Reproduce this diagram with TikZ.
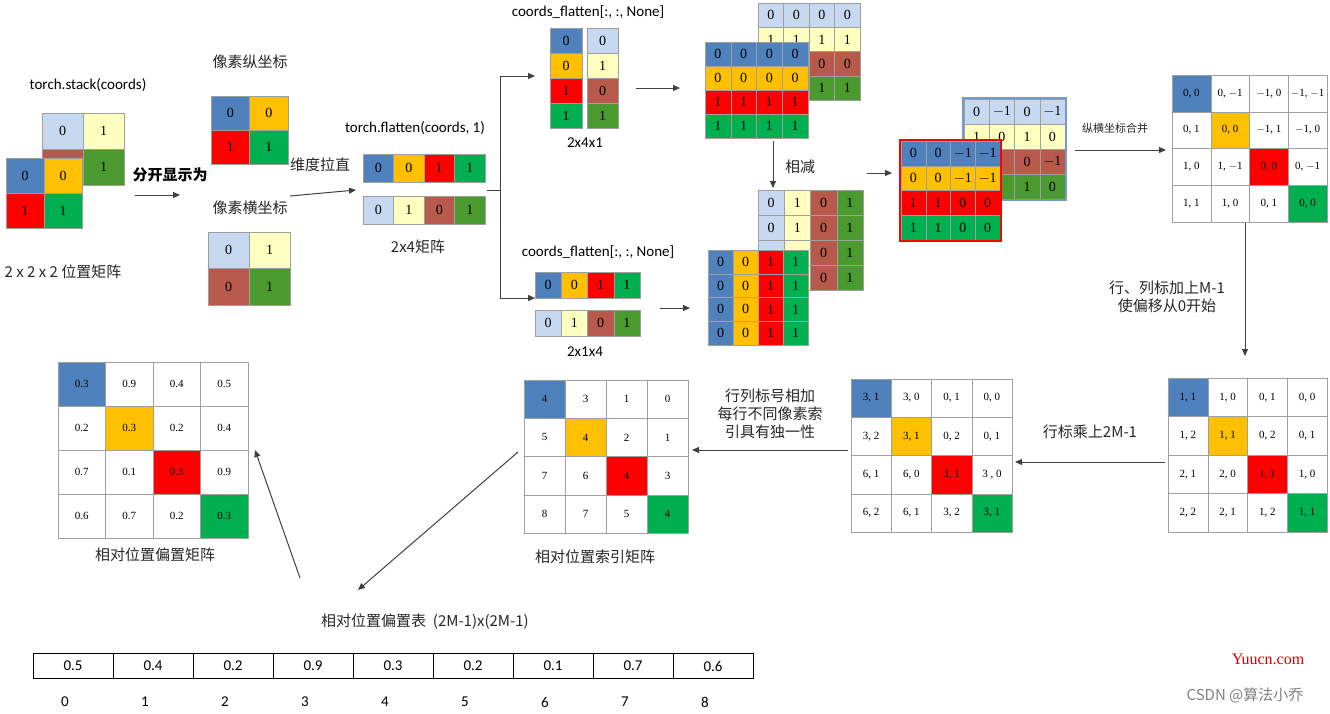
\documentclass[tikz,border=0pt]{standalone}
\usepackage{fontspec}
\setmainfont{Carlito}
\newfontfamily\cjk{Noto Sans CJK SC}
\newfontfamily\srf{Liberation Serif}
\usetikzlibrary{arrows.meta}
\definecolor{B}{HTML}{4F81BD}\definecolor{O}{HTML}{FFC000}\definecolor{R}{HTML}{FF0000}
\definecolor{G}{HTML}{00B050}\definecolor{L}{HTML}{C6D9F1}\definecolor{Y}{HTML}{FFFFC0}
\definecolor{N}{HTML}{B85A4B}\definecolor{D}{HTML}{4A9A2F}\definecolor{W}{HTML}{FFFFFF}
\definecolor{arr}{HTML}{404040}
\tikzset{cell/.style={draw=gray!75,inner sep=0pt,font=\srf\fontsize{14}{14}\selectfont},
 sm/.style={font=\srf\fontsize{11}{11}\selectfont},
 lbl/.style={font=\cjk\fontsize{15}{18}\selectfont,inner sep=1pt,align=center,text=black!85},
 code/.style={font=\fontsize{15}{17}\selectfont,inner sep=1pt},
 ar/.style={draw=arr,line width=1pt,-{Triangle[length=7pt,width=6pt]}}}
\newcommand\mgrid[6][]{\foreach \row [count=\r] in {#6}{\foreach \fc/\vv [count=\k] in \row {%
 \node[cell,#1,fill=\fc,minimum width=#4pt,minimum height=#5pt] at ({#2+(\k-0.5)*#4},{#3+(\r-0.5)*#5}) {\vv};}}}
\begin{document}
\begin{tikzpicture}[x=1pt,y=-1pt]
\useasboundingbox (0,0) rectangle (1330,713);
% 1 stack
\node[code] (t1) at (88,85) {torch.stack(coords)};
\mgrid{42}{113}{41}{36}{{L/0,Y/1},{N/{},D/1}}
\mgrid{6}{158}{38}{35}{{B/0,O/0},{R/1,G/1}}
\node[lbl] (c1) at (63,272) {2 x 2 x 2 位置矩阵};
\node[lbl,font=\cjk\bfseries\fontsize{15}{16}\selectfont,text=black] (s1) at (170,175) {分开显示为};
\coordinate (a1) at (135,195); \coordinate (b1) at (180,195);
\draw[ar] (a1) -- (b1);
% 2 split
\node[lbl] (z1) at (250,62) {像素纵坐标};
\mgrid{211}{96}{38.5}{34}{{B/0,O/0},{R/1,G/1}}
\node[lbl] (z2) at (250,208) {像素横坐标};
\mgrid{208}{232}{41}{36.5}{{L/0,Y/1},{N/0,D/1}}
\node[lbl] (w1) at (320,165) {维度拉直};
\coordinate (a2) at (290,196); \coordinate (b2) at (356,190);
\draw[ar] (a2) -- (b2);
% 3 flatten
\node[code] (t2) at (415,128) {torch.flatten(coords, 1)};
\mgrid{363}{154}{30.5}{28}{{B/0,O/0,R/1,G/1}}
\mgrid{363}{196}{30.5}{28}{{L/0,Y/1,N/0,D/1}}
\node[lbl] (c3) at (418,247) {2x4矩阵};
\coordinate (j0) at (487,190); \coordinate (j1) at (500,190);
\coordinate (j2) at (500,76); \coordinate (j3) at (535,76);
\coordinate (j4) at (500,298); \coordinate (j5) at (535,298);
\draw[draw=arr,line width=1pt] (j0) -- (j1);
\draw[ar] (j1) -- (j2) -- (j3);
\draw[ar] (j1) -- (j4) -- (j5);
% 4 none
\node[code] (t3) at (588,12) {coords\_flatten[:, :, None]};
\mgrid{550}{28}{32}{25}{{B/0},{O/0},{R/1},{G/1}}
\mgrid{587}{28}{31}{25}{{L/0},{Y/1},{N/0},{D/1}}
\node[code] (c4) at (585,143) {2x4x1};
\node[code] (t4) at (598,252) {coords\_flatten[:, :, None]};
\mgrid{535}{272}{26.25}{26}{{B/0,O/0,R/1,G/1}}
\mgrid{535}{310}{26.25}{26}{{L/0,Y/1,N/0,D/1}}
\node[code] (c5) at (585,352) {2x1x4};
% 5 broadcast
\coordinate (a3) at (636,88); \coordinate (b3) at (680,88);
\draw[ar] (a3) -- (b3);
\mgrid{758}{3}{25.5}{24.25}{{L/0,L/0,L/0,L/0},{Y/1,Y/1,Y/1,Y/1},{N/{},N/{},N/0,N/0},{D/{},D/{},D/1,D/1}}
\mgrid{705}{42}{25.75}{24}{{B/0,B/0,B/0,B/0},{O/0,O/0,O/0,O/0},{R/1,R/1,R/1,R/1},{G/1,G/1,G/1,G/1}}
\coordinate (a4) at (773,141); \coordinate (b4) at (773,188);
\draw[ar] (a4) -- (b4);
\node[lbl] (x1) at (800,167) {相减};
\mgrid{758}{190}{26.25}{25}{{L/0,Y/1,N/0,D/1},{L/0,Y/1,N/0,D/1},{L/{},Y/{},N/0,D/1},{L/{},Y/{},N/0,D/1}}
\mgrid{708}{250}{25}{23.75}{{B/0,O/0,R/1,G/1},{B/0,O/0,R/1,G/1},{B/0,O/0,R/1,G/1},{B/0,O/0,R/1,G/1}}
\coordinate (a5) at (660,308); \coordinate (b5) at (690,308);
\draw[ar] (a5) -- (b5);
\coordinate (a6) at (867,173); \coordinate (b6) at (892,173);
\draw[ar] (a6) -- (b6);
% 6 result
\mgrid{964}{99}{25.25}{25}{{L/0,L/$-$1,L/0,L/$-$1},{Y/1,Y/0,Y/1,Y/0},{N/{},N/{},N/0,N/$-$1},{D/{},D/{},D/1,D/0}}
\draw[draw=B!80!white,line width=1.5pt] (963,98) rectangle (1066,200);
\mgrid{901}{141}{24.75}{24.75}{{B/0,B/0,B/$-$1,B/$-$1},{O/0,O/0,O/$-$1,O/$-$1},{R/1,R/1,R/0,R/0},{G/1,G/1,G/0,G/0}}
\draw[draw=R,line width=1.5pt] (900,140) rectangle (1001,241);
\node[lbl,font=\cjk\fontsize{11}{12}\selectfont] (h1) at (1115,128) {纵横坐标合并};
\coordinate (a7) at (1075,150); \coordinate (b7) at (1166,150);
\draw[ar] (a7) -- (b7);
% 7
\mgrid[sm]{1172}{75}{38.75}{36.75}{{B/{0, 0},W/{0, $-$1},W/{$-$1, 0},W/{$-$1, $-$1}},{W/{0, 1},O/{0, 0},W/{$-$1, 1},W/{$-$1, 0}},{W/{1, 0},W/{1, $-$1},R/{0, 0},W/{0, $-$1}},{W/{1, 1},W/{1, 0},W/{0, 1},G/{0, 0}}}
\coordinate (a8) at (1245,223); \coordinate (b8) at (1245,356);
\draw[ar] (a8) -- (b8);
\node[lbl] (h2) at (1167,297) {行、列标加上M-1\\使偏移从0开始};
% 8
\mgrid[sm]{1168}{378}{39.75}{38.5}{{B/{1, 1},W/{1, 0},W/{0, 1},W/{0, 0}},{W/{1, 2},O/{1, 1},W/{0, 2},W/{0, 1}},{W/{2, 1},W/{2, 0},R/{1, 1},W/{1, 0}},{W/{2, 2},W/{2, 1},W/{1, 2},G/{1, 1}}}
\coordinate (a9) at (1165,462); \coordinate (b9) at (1015,462);
\draw[ar] (a9) -- (b9);
\node[lbl] (h3) at (1090,432) {行标乘上2M-1};
% 9
\mgrid[sm]{851}{379}{40.25}{38.25}{{B/{3, 1},W/{3, 0},W/{0, 1},W/{0, 0}},{W/{3, 2},O/{3, 1},W/{0, 2},W/{0, 1}},{W/{6, 1},W/{6, 0},R/{3, 1},W/{3 , 0}},{W/{6, 2},W/{6, 1},W/{3, 2},G/{3, 1}}}
\coordinate (a10) at (848,450); \coordinate (b10) at (692,450);
\draw[ar] (a10) -- (b10);
\node[lbl] (h4) at (770,414) {行列标号相加\\每行不同像素索\\引具有独一性};
% 10 index
\mgrid[sm]{524}{380}{41}{38.25}{{B/4,W/3,W/1,W/0},{W/5,O/4,W/2,W/1},{W/7,W/6,R/4,W/3},{W/8,W/7,W/5,G/4}}
\node[lbl] (c10) at (595,557) {相对位置索引矩阵};
\coordinate (a11) at (518,452); \coordinate (b11) at (358,590);
\draw[ar] (a11) -- (b11);
% 11 bias
\mgrid[sm]{58}{362}{47.5}{44}{{B/0.3,W/0.9,W/0.4,W/0.5},{W/0.2,O/0.3,W/0.2,W/0.4},{W/0.7,W/0.1,R/0.3,W/0.9},{W/0.6,W/0.7,W/0.2,G/0.3}}
\node[lbl] (c11) at (155,555) {相对位置偏置矩阵};
\coordinate (a12) at (300,578); \coordinate (b12) at (255,450);
\draw[ar] (a12) -- (b12);
% table
\node[lbl] (c12) at (425,622) {相对位置偏置表 \ (2M-1)x(2M-1)};
\foreach \v [count=\i from 0] in {0.5,0.4,0.2,0.9,0.3,0.2,0.1,0.7,0.6}{
 \node[draw=black,inner sep=0,minimum width=80pt,minimum height=25pt,code] (tb\i) at ({73+80*\i},666) {\v};
 \node[code] (ix\i) at ({65+80*\i},702) {\i};}
\node[font=\srf\fontsize{16}{16}\selectfont,text=R!85!black] (wm1) at (1268,659) {Yuucn.com};
\node[lbl,text=gray] (wm2) at (1245,695) {CSDN @算法小乔};
\end{tikzpicture}
\end{document}
